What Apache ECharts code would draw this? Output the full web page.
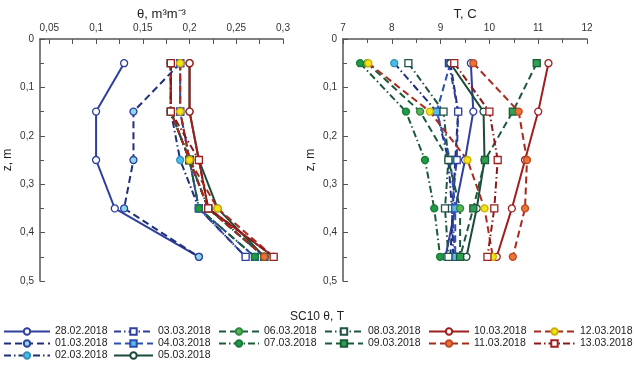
<!DOCTYPE html>
<html>
<head>
<meta charset="utf-8">
<script src="https://cdn.jsdelivr.net/npm/echarts@6/dist/echarts.min.js"></script>
<style>
  html, body { margin: 0; padding: 0; background: #fff; }
  #chart { width: 634px; height: 370px; }
</style>
</head>
<body>
<div id="chart"></div>
<script>
// depths of the probes, m
const depth = [0.05, 0.15, 0.25, 0.35, 0.45]

const dates = [
  '28.02.2018', '01.03.2018', '02.03.2018', '03.03.2018', '04.03.2018',
  '05.03.2018', '06.03.2018', '07.03.2018', '08.03.2018', '09.03.2018',
  '10.03.2018', '11.03.2018', '12.03.2018', '13.03.2018'
]

// soil moisture theta, m3/m3 (same order as dates)
const thetaValues = [
  [0.13, 0.10, 0.10, 0.12, 0.21],
  [0.19, 0.14, 0.14, 0.13, 0.21],
  [0.18, 0.18, 0.19, 0.21, 0.26],
  [0.19, 0.19, 0.20, 0.21, 0.26],
  [0.19, 0.19, 0.20, 0.21, 0.27],
  [0.20, 0.20, 0.21, 0.23, 0.28],
  [0.18, 0.18, 0.20, 0.22, 0.28],
  [0.18, 0.18, 0.20, 0.21, 0.27],
  [0.18, 0.18, 0.20, 0.22, 0.28],
  [0.18, 0.18, 0.20, 0.22, 0.28],
  [0.20, 0.20, 0.21, 0.22, 0.29],
  [0.18, 0.18, 0.20, 0.22, 0.28],
  [0.19, 0.19, 0.20, 0.23, 0.29],
  [0.18, 0.18, 0.21, 0.22, 0.29]
]

// soil temperature T, C
const tempValues = [
  [9.62, 9.67, 9.50, 9.30, 9.10],
  [9.20, 9.36, 9.30, 9.25, 9.20],
  [8.05, 8.92, 9.16, 9.23, 9.26],
  [9.17, 9.36, 9.33, 9.23, 9.30],
  [9.20, 8.92, 9.20, 9.30, 9.30],
  [9.20, 9.88, 9.90, 9.74, 9.53],
  [7.50, 8.58, 9.16, 9.40, 9.40],
  [7.35, 8.29, 8.68, 8.87, 8.99],
  [8.34, 9.06, 9.16, 9.09, 9.16],
  [10.97, 10.48, 9.91, 9.67, 9.40],
  [11.21, 11.00, 10.73, 10.46, 10.15],
  [9.67, 10.60, 10.77, 10.73, 10.48],
  [7.52, 8.78, 9.55, 9.90, 10.07],
  [9.28, 10.00, 10.17, 10.10, 9.96]
]

const thetaLabelValues = [0.05, 0.1, 0.15, 0.2, 0.25, 0.3]
const thetaTickValues = [0.05, 0.075, 0.1, 0.125, 0.15, 0.175, 0.2, 0.225, 0.25, 0.275, 0.3]

// legend columns (indexes into dates)
const legendColumns = [[0, 1, 2], [3, 4, 5], [6, 7], [8, 9], [10, 11], [12, 13]]
const legendLeft = [3, 113, 218, 324, 428, 533]
const legendIconWidth = [46, 39, 40, 38, 40, 41]

const DASH = [7, 4]
const DASHDOT = [7, 3, 1.5, 3]
const styles = [
  { line: '#2f3f9e', type: 'solid', symbol: 'circle', fill: '#fff', border: '#2f3f9e' },
  { line: '#1f2f7a', type: DASH, symbol: 'circle', fill: '#8fd8ea', border: '#2f3f9e' },
  { line: '#1f2f7a', type: DASHDOT, symbol: 'circle', fill: '#45bfe6', border: '#3a8fc0' },
  { line: '#2f3f9e', type: DASHDOT, symbol: 'rect', fill: '#fff', border: '#2f3f9e' },
  { line: '#2f4fb0', type: DASH, symbol: 'rect', fill: '#58b9e8', border: '#2f4fb0' },
  { line: '#1b4a38', type: 'solid', symbol: 'circle', fill: '#fff', border: '#1b4a38' },
  { line: '#1b5a3a', type: DASH, symbol: 'circle', fill: '#5fb35a', border: '#2a8a3e' },
  { line: '#1b5a3a', type: DASHDOT, symbol: 'circle', fill: '#1f9a45', border: '#1a7a38' },
  { line: '#1d5446', type: DASHDOT, symbol: 'rect', fill: '#fff', border: '#1d5446' },
  { line: '#1d5a3a', type: DASH, symbol: 'rect', fill: '#2fa052', border: '#1d5a3a' },
  { line: '#a01e1e', type: 'solid', symbol: 'circle', fill: '#fff', border: '#a01e1e' },
  { line: '#a82a1e', type: DASH, symbol: 'circle', fill: '#e8743a', border: '#c04a20' },
  { line: '#a82a1e', type: DASH, symbol: 'circle', fill: '#f4e21a', border: '#d0b000' },
  { line: '#8a1a1a', type: DASHDOT, symbol: 'rect', fill: '#fff', border: '#a01e1e' }
]

const fmt = v => String(+(+v).toFixed(3)).replace('.', ',')

function makeSeries (gridIdx, values, i) {
  const s = styles[i]
  return {
    name: dates[i],
    type: 'line',
    xAxisIndex: gridIdx,
    yAxisIndex: gridIdx,
    data: values.map((v, k) => [v, depth[k]]),
    symbol: s.symbol,
    symbolSize: 7,
    showAllSymbol: true,
    lineStyle: { color: s.line, width: 2, type: s.type },
    itemStyle: { color: s.fill, borderColor: s.border, borderWidth: 1.3 },
    animation: false
  }
}

const series = []
dates.forEach((d, i) => {
  series.push(makeSeries(0, thetaValues[i], i))
  series.push(makeSeries(1, tempValues[i], i))
})

const axisLine = { show: true, onZero: false, lineStyle: { color: '#555', width: 1.5 } }
const labelStyle = { fontSize: 10, color: '#333', fontFamily: 'Liberation Sans', formatter: fmt }
const nameStyle = { fontSize: 13, color: '#222', fontFamily: 'Liberation Sans' }

const yAxisBase = gridIndex => ({
  gridIndex,
  type: 'value',
  inverse: true,
  min: 0,
  max: 0.5,
  interval: 0.1,
  name: 'z, m',
  nameLocation: 'middle',
  nameGap: 26,
  nameTextStyle: { fontSize: 12, color: '#222', fontFamily: 'Liberation Sans' },
  axisLine,
  axisTick: { show: true, inside: true, length: 5, lineStyle: { color: '#555' } },
  minorTick: { show: true, splitNumber: 2, length: 4, lineStyle: { color: '#555' } },
  axisLabel: Object.assign({ margin: 6 }, labelStyle),
  splitLine: { show: false }
})

const legends = legendColumns.map((col, c) => ({
  orient: 'vertical',
  left: legendLeft[c],
  top: 326,
  padding: 0,
  itemGap: 1,
  itemWidth: legendIconWidth[c],
  itemHeight: 8,
  selectedMode: false,
  textStyle: { fontSize: 10.5, color: '#222', fontFamily: 'Liberation Sans', padding: [0, 0, 0, 0] },
  data: col.map(i => dates[i])
}))

const chart = echarts.init(document.getElementById('chart'), null, { renderer: 'canvas' })
chart.setOption({
  backgroundColor: '#fff',
  animation: false,
  title: {
    text: 'SC10 θ, T',
    left: 'center',
    top: 306,
    textStyle: { fontSize: 12, fontWeight: 'normal', color: '#222', fontFamily: 'Liberation Sans' }
  },
  legend: legends,
  grid: [
    { left: 40, top: 39, width: 243, height: 242 },
    { left: 343, top: 39, width: 244, height: 242 }
  ],
  xAxis: [
    {
      gridIndex: 0,
      type: 'value',
      position: 'top',
      min: 0.04,
      max: 0.3,
      name: 'θ, m³m⁻³',
      nameLocation: 'middle',
      nameGap: 18,
      nameMoveOverlap: false,
      nameTextStyle: nameStyle,
      axisLine,
      axisTick: { show: true, inside: true, length: 5, customValues: thetaTickValues, lineStyle: { color: '#555' } },
      axisLabel: Object.assign({ margin: 6, customValues: thetaLabelValues }, labelStyle),
      splitLine: { show: false }
    },
    {
      gridIndex: 1,
      type: 'value',
      position: 'top',
      min: 7,
      max: 12,
      interval: 1,
      name: 'T, C',
      nameLocation: 'middle',
      nameGap: 18,
      nameMoveOverlap: false,
      nameTextStyle: nameStyle,
      axisLine,
      axisTick: { show: true, inside: true, length: 5, lineStyle: { color: '#555' } },
      minorTick: { show: true, splitNumber: 2, length: 4, lineStyle: { color: '#555' } },
      axisLabel: Object.assign({ margin: 6 }, labelStyle),
      splitLine: { show: false }
    }
  ],
  yAxis: [yAxisBase(0), yAxisBase(1)],
  series
})
</script>
</body>
</html>
